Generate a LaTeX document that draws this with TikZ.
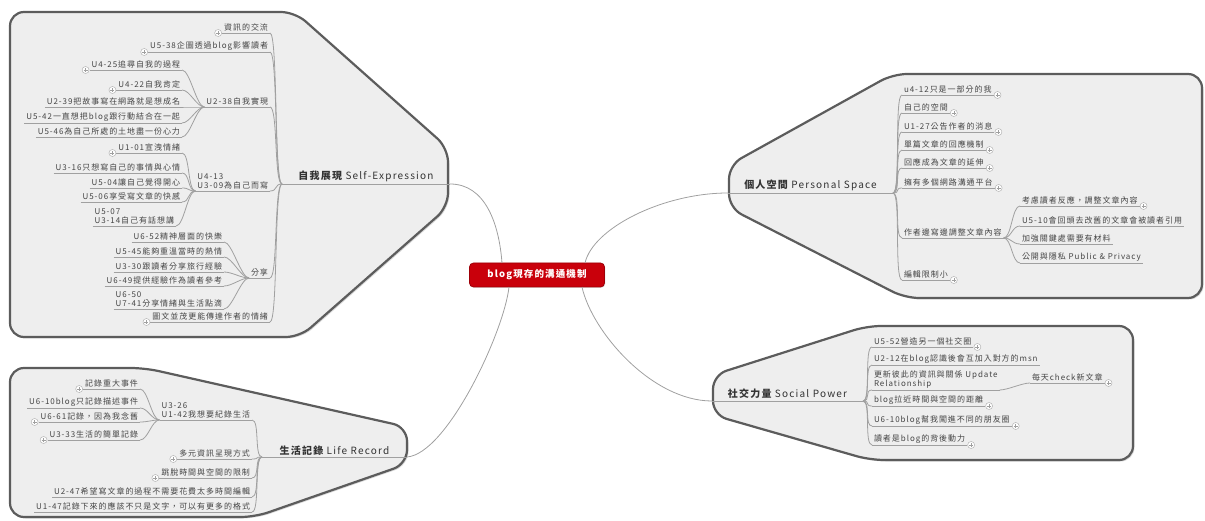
\documentclass[tikz,border=0pt]{standalone}
\usepackage{fontspec}
\usetikzlibrary{shadows}
\newfontfamily\cjkfont[LetterSpace=12]{Noto Sans CJK TC}
\definecolor{cloudfill}{HTML}{EEEEEE}
\definecolor{cloudedge}{HTML}{5C5C5C}
\definecolor{wire}{HTML}{A0A0A0}
\definecolor{ink}{HTML}{444444}
\definecolor{headink}{HTML}{333333}
\definecolor{rootred}{HTML}{C9000B}
\definecolor{rootedge}{HTML}{9E0008}
\pgfdeclarelayer{clouds}
\pgfsetlayers{clouds,main}
\begin{document}
\begin{tikzpicture}[x=1pt,y=-1pt,
  every node/.style={font=\cjkfont\fontsize{8}{9}\selectfont, text=ink,
    inner xsep=2pt, inner ysep=1.5pt, outer sep=0pt, align=left},
  lw/.style={anchor=south east},
  le/.style={anchor=south west},
  mainW/.style={anchor=south west, font=\cjkfont\fontsize{10}{12}\selectfont,
    text=headink, inner ysep=2pt},
  mainE/.style={anchor=south east, font=\cjkfont\fontsize{10}{12}\selectfont,
    text=headink, inner ysep=2pt},
  rootbox/.style={fill=rootred, draw=rootedge, line width=0.8pt, rounded corners=4pt,
    minimum width=135pt, minimum height=24pt, text=white, align=center,
    font=\cjkfont\bfseries\fontsize{9.5}{11}\selectfont,
    drop shadow={shadow xshift=0.8pt, shadow yshift=-0.8pt, opacity=0.25}},
  cloud/.style={draw=cloudedge, line width=2.2pt, fill=cloudfill, rounded corners=14pt,
    drop shadow={shadow xshift=1.5pt, shadow yshift=-1.5pt, opacity=0.3}},
  conn/.style={draw=wire, line width=0.8pt},
  uline/.style={draw=wire, line width=0.8pt},
  lbr/.style={to path={.. controls +(-8,0) and +(8,0) .. (\tikztotarget)}},
  rbr/.style={to path={.. controls +(8,0) and +(-8,0) .. (\tikztotarget)}},
  tog/.style={circle, draw=wire!80, fill=white, line width=0.5pt, minimum size=7pt,
    inner sep=0pt,
    path picture={\draw[wire, line width=0.5pt]
      ([xshift=-2pt]path picture bounding box.center) -- ([xshift=2pt]path picture bounding box.center)
      ([yshift=-2pt]path picture bounding box.center) -- ([yshift=2pt]path picture bounding box.center);}}
]
\useasboundingbox (0,0) rectangle (1205,521);

% ---------- background panels ----------
\begin{pgfonlayer}{clouds}
\path[cloud] (150,12) -- (295,12) -- (448,148) -- (448,207) -- (300,337) -- (10,337) -- (10,12) -- cycle;
\path[cloud] (80,368) -- (145,368) -- (407,427) -- (407,464) -- (255,517) -- (10,517) -- (10,368) -- cycle;
\path[cloud] (1050,74) -- (1202,74) -- (1202,298) -- (905,298) -- (729,208) -- (729,165) -- (893,74) -- cycle;
\path[cloud] (1000,326) -- (1133,326) -- (1133,460) -- (870,460) -- (713,415) -- (713,375) -- (867,326) -- cycle;
\end{pgfonlayer}

% ---------- root ----------
\node[rootbox] (root) at (537,275) {blog現存的溝通機制};

% ---------- Self-Expression ----------
\node[mainW, minimum width=168pt] (se) at (282,184) {{\bfseries 自我展現} Self-Expression};
\node[lw] (se1) at (270,33) {資訊的交流};
\node[lw] (se2) at (270,52) {U5-38企圖透過blog影響讀者};
\node[lw] (se3) at (270,107) {U2-38自我實現};
\node[lw] (se4) at (270,191) {U4-13\\U3-09為自己而寫};
\node[lw] (se5) at (270,278) {分享};
\node[lw] (se6) at (270,322) {圖文並茂更能傳達作者的情緒};

\node[lw] (se3a) at (182,70) {U4-25追尋自我的過程};
\node[lw] (se3b) at (182,90) {U4-22自我肯定};
\node[lw] (se3c) at (182,107) {U2-39把故事寫在網路就是想成名};
\node[lw] (se3d) at (182,123) {U5-42一直想把blog跟行動結合在一起};
\node[lw] (se3e) at (182,137) {U5-46為自己所處的土地盡一份心力};

\node[lw] (se4a) at (182,153) {U1-01宣洩情緒};
\node[lw] (se4b) at (182,173) {U3-16只想寫自己的事情與心情};
\node[lw] (se4c) at (182,188) {U5-04讓自己覺得開心};
\node[lw] (se4d) at (182,202) {U5-06享受寫文章的快感};
\node[lw] (se4e) at (176,226) {U5-07\\U3-14自己有話想講};

\node[lw] (se5a) at (224,242) {U6-52精神層面的快樂};
\node[lw] (se5b) at (224,257) {U5-45能夠重溫當時的熱情};
\node[lw] (se5c) at (224,272) {U3-30跟讀者分享旅行經驗};
\node[lw] (se5d) at (224,286) {U6-49提供經驗作為讀者參考};
\node[lw] (se5e) at (224,309) {U6-50\\U7-41分享情緒與生活點滴};

% ---------- Life Record ----------
\node[mainW, minimum width=145pt] (lr) at (262,457) {{\bfseries 生活記錄} Life Record};
\node[lw] (lr1) at (252,420) {U3-26\\U1-42我想要紀錄生活};
\node[lw] (lr2) at (252,459) {多元資訊呈現方式};
\node[lw] (lr3) at (252,478) {跳脫時間與空間的限制};
\node[lw] (lr4) at (252,497) {U2-47希望寫文章的過程不需要花費太多時間編輯};
\node[lw] (lr5) at (252,512) {U1-47記錄下來的應該不只是文字，可以有更多的格式};

\node[lw] (lr1a) at (140,389) {記錄重大事件};
\node[lw] (lr1b) at (140,408) {U6-10blog只記錄描述事件};
\node[lw] (lr1c) at (140,422) {U6-61記錄，因為我念舊};
\node[lw] (lr1d) at (140,440) {U3-33生活的簡單記錄};

% ---------- Personal Space ----------
\node[mainE, minimum width=165pt] (ps) at (893,193) {{\bfseries 個人空間} Personal Space};
\node[le] (ps1) at (902,95) {u4-12只是一部分的我};
\node[le] (ps2) at (902,113) {自己的空間};
\node[le] (ps3) at (902,132) {U1-27公告作者的消息};
\node[le] (ps4) at (902,150) {單篇文章的回應機制};
\node[le] (ps5) at (902,168) {回應成為文章的延伸};
\node[le] (ps6) at (902,188) {擁有多個網路溝通平台};
\node[le] (ps7) at (902,238) {作者邊寫邊調整文章內容};
\node[le] (ps8) at (902,280) {編輯限制小};

\node[le] (ps7a) at (1020,206) {考慮讀者反應，調整文章內容};
\node[le] (ps7b) at (1020,226) {U5-10會回頭去改舊的文章會被讀者引用};
\node[le] (ps7c) at (1020,244) {加強關鍵處需要有材料};
\node[le] (ps7d) at (1020,263) {公開與隱私 Public \& Privacy};

% ---------- Social Power ----------
\node[mainE, minimum width=151pt] (sp) at (863,401) {{\bfseries 社交力量} Social Power};
\node[le] (sp1) at (872,347) {U5-52營造另一個社交圈};
\node[le] (sp2) at (872,365) {U2-12在blog認識後會互加入對方的msn};
\node[le] (sp3) at (872,390) {更新彼此的資訊與關係 Update\\Relationship};
\node[le] (sp4) at (872,406) {blog拉近時間與空間的距離};
\node[le] (sp5) at (872,426) {U6-10blog幫我闖進不同的朋友圈};
\node[le] (sp6) at (872,445) {讀者是blog的背後動力};
\node[le] (sp3a) at (1030,383) {每天check新文章};

% ---------- underlines ----------
\foreach \n in {se,se1,se2,se3,se4,se5,se6,se3a,se3b,se3c,se3d,se3e,
                se4a,se4b,se4c,se4d,se4e,se5a,se5b,se5c,se5d,se5e,
                lr,lr1,lr2,lr3,lr4,lr5,lr1a,lr1b,lr1c,lr1d,
                ps,ps1,ps2,ps3,ps4,ps5,ps6,ps7,ps8,ps7a,ps7b,ps7c,ps7d,
                sp,sp1,sp2,sp3,sp4,sp5,sp6,sp3a}
  \draw[uline] (\n.south west) -- (\n.south east);

% ---------- branches ----------
\foreach \c in {se1,se2,se3,se4,se5,se6} \draw[conn] (se.south west) to[lbr] (\c.south east);
\foreach \c in {se3a,se3b,se3c,se3d,se3e} \draw[conn] (se3.south west) to[lbr] (\c.south east);
\foreach \c in {se4a,se4b,se4c,se4d,se4e} \draw[conn] (se4.south west) to[lbr] (\c.south east);
\foreach \c in {se5a,se5b,se5c,se5d,se5e} \draw[conn] (se5.south west) to[lbr] (\c.south east);
\foreach \c in {lr1,lr2,lr3,lr4,lr5} \draw[conn] (lr.south west) to[lbr] (\c.south east);
\foreach \c in {lr1a,lr1b,lr1c,lr1d} \draw[conn] (lr1.south west) to[lbr] (\c.south east);
\foreach \c in {ps1,ps2,ps3,ps4,ps5,ps6,ps7,ps8} \draw[conn] (ps.south east) to[rbr] (\c.south west);
\foreach \c in {ps7a,ps7b,ps7c,ps7d} \draw[conn] (ps7.south east) to[rbr] (\c.south west);
\foreach \c in {sp1,sp2,sp3,sp4,sp5,sp6} \draw[conn] (sp.south east) to[rbr] (\c.south west);
\draw[conn] (sp3.south east) to[rbr] (sp3a.south west);

% ---------- root links ----------
\draw[conn] (se.south east) .. controls +(35,0) and +(-3,-40) .. ([xshift=-35pt]root.north);
\draw[conn] (lr.south east) .. controls +(40,-3) and +(-5,45) .. ([xshift=-28pt]root.south);
\draw[conn] (ps.south west) .. controls +(-65,0) and +(8,-35) .. ([xshift=48pt]root.north);
\draw[conn] (sp.south west) .. controls +(-60,0) and +(10,45) .. ([xshift=45pt]root.south);

% ---------- collapse toggles ----------
\foreach \n in {se1,se2,se3a,se3b,se4a,se6,lr1a,lr1c,lr1d,lr2,lr3}
  \node[tog] (\n t) at ([xshift=-4pt]\n.south west) {};
\foreach \n in {ps1,ps2,ps3,ps4,ps5,ps6,ps8,ps7a,sp1,sp3a,sp4,sp5,sp6}
  \node[tog] (\n t) at ([xshift=4pt]\n.south east) {};
\end{tikzpicture}
\end{document}
